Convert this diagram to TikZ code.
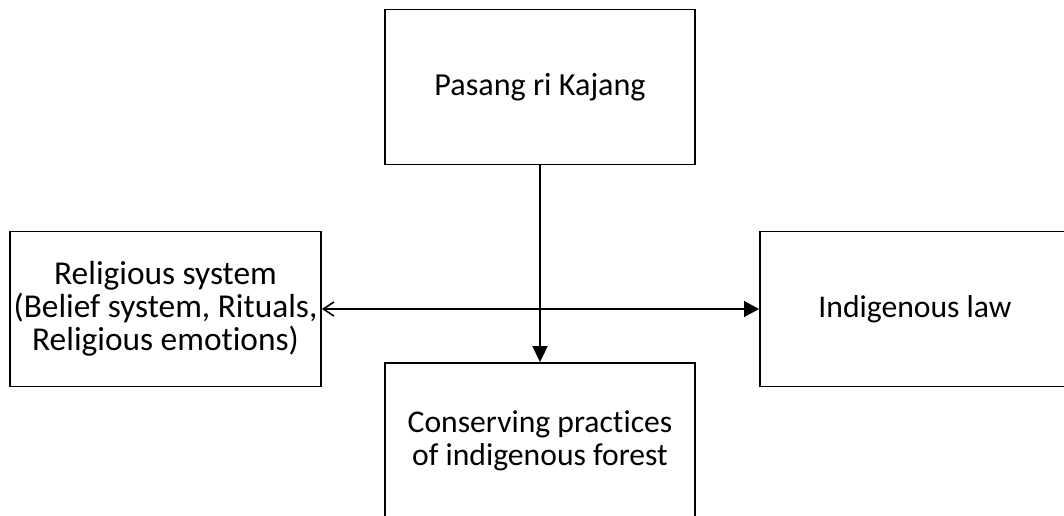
\documentclass[tikz,border=0pt]{standalone}
\usepackage{fontspec}
\setmainfont{Carlito}[Ligatures=NoCommon]
\usetikzlibrary{arrows.meta}
\begin{document}
\begin{tikzpicture}[x=0.02cm, y=-0.02cm,
  every node/.style={font=\fontsize{18}{18.8}\selectfont},
  box/.style={draw,line width=1.1pt,minimum width=6.2cm,minimum height=3.1cm,align=center,inner sep=0pt},
  flow/.style={line width=0.85pt,-{Triangle[length=9pt,width=8.5pt]}},
  link/.style={line width=0.85pt,{Straight Barb[length=6pt,width=8pt,line width=0.9pt]}-{Triangle[length=8.5pt,width=9pt]}}]
\useasboundingbox (0,0) rectangle (1064,515);
% boxes
\node[box,font=\fontsize{18.3}{19}\selectfont] (kajang) at (540,87) {Pasang ri Kajang};
\node[box,minimum width=6.22cm,font=\fontsize{19}{18.9}\selectfont] (religi) at (165.5,309) {Religious system\\(Belief system, Rituals,\\Religious emotions)};
\node[box] (hukum) at (915,309) {Indigenous law};
\node[box] (hutan) at (540,440.5) {Conserving practices\\of indigenous forest};
% connectors
\draw[flow] (kajang) -- (hutan);
\draw[link] (religi) -- (hukum);
\end{tikzpicture}
\end{document}
